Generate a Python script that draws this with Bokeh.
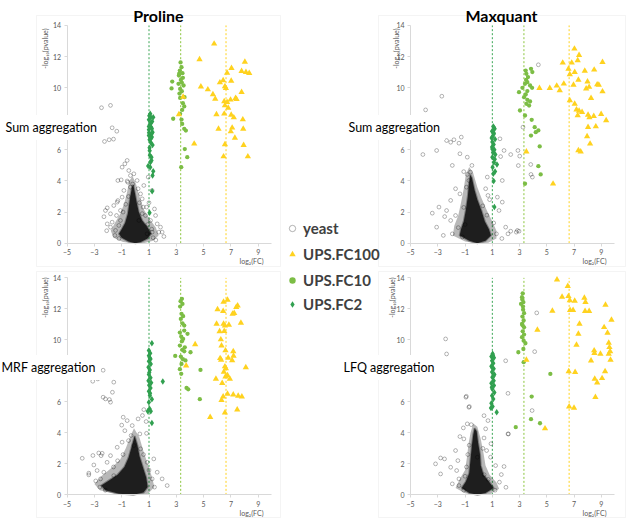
from math import pi
from bokeh.plotting import figure
from bokeh.models import Range1d, LinearAxis, FixedTicker, Label, Legend, LegendItem, BoxAnnotation
from bokeh.layouts import row, column
from bokeh.embed import file_html
from bokeh.resources import INLINE

FONT = "Lato"

# ---------------- shared chart values ----------------
x_ticks = [-5, -3, -1, 1, 3, 5, 7, 9]
y_ticks = [0, 2, 4, 6, 8, 10, 12, 14]
x_axis_bounds = [-5, 10]
y_axis_bounds = [0, 14]
ref_fc = [1.0, 3.32, 6.64]            # log2(2), log2(10), log2(100)
ref_colors = ["#3aa655", "#8cc63f", "#ffd21f"]
series_names = ["yeast", "UPS.FC100", "UPS.FC10", "UPS.FC2"]
C_YEAST = "#000000"
C_FC100 = "#ffd21f"
C_FC10 = "#7cbd45"
C_FC2 = "#31a050"

# ---------------- Proline / Sum aggregation (top-left) ----------------
# outline of the densest part of the yeast cloud, and of its looser fringe
tl_core = [(0.0, 0.0), (-0.5, 0.1), (-1.0, 0.35), (-1.2, 0.6), (-1.0, 0.9), (-0.75, 1.3), (-0.55, 1.9),
           (-0.45, 2.5), (-0.35, 3.1), (-0.25, 3.6), (-0.15, 3.75), (-0.05, 3.3), (0.1, 2.6), (0.25, 2.0),
           (0.5, 1.45), (0.9, 1.0), (1.15, 0.6), (0.9, 0.3), (0.4, 0.08)]
tl_halo = [(0.0, -0.02), (-0.9, 0.08), (-1.6, 0.35), (-1.8, 0.8), (-1.5, 1.3), (-1.1, 1.9), (-0.8, 2.6),
           (-0.6, 3.3), (-0.45, 4.0), (-0.2, 4.3), (0.05, 3.8), (0.3, 3.0), (0.6, 2.2), (1.0, 1.6), (1.5, 1.0),
           (1.7, 0.5), (1.3, 0.15), (0.6, 0.0)]
tl_yeast = [(-2.48, 8.71), (-1.82, 8.86), (-1.70, 7.42), (-1.36, 7.20), (-2.26, 6.54), (-1.92, 6.65), (-1.60, 6.69),
            (-0.60, 5.32), (-0.77, 5.10), (-0.97, 4.89), (-1.28, 4.03), (-1.04, 4.07), (-0.48, 4.67), (-0.36, 4.35),
            (-0.55, 3.92), (0.38, 3.17), (0.50, 2.85), (0.62, 3.71), (-1.33, 2.64), (-1.58, 2.42), (-2.06, 2.27),
            (-2.19, 2.10), (-1.82, 1.89), (-1.38, 1.78), (-1.09, 1.46), (-1.70, 1.35), (0.74, 1.78), (1.11, 1.46),
            (1.48, 1.78), (1.60, 1.24), (1.72, 0.71), (2.09, 0.43), (1.23, 0.71), (1.84, 1.03), (0.86, 0.60),
            (-1.45, 0.82), (-1.82, 1.03), (-2.06, 1.24), (-1.28, 2.74), (-0.11, 4.46), (0.13, 4.03), (0.94, 4.25),
            (1.23, 3.39), (-0.84, 3.39), (-0.97, 2.96), (-0.36, 3.60), (0.57, 2.32), (0.82, 2.32), (0.26, 1.46),
            (-1.09, 2.10), (-1.21, 1.14), (1.96, 0.71), (-0.90, 2.00), (-0.70, 2.50), (-0.50, 3.00), (0.30, 2.60),
            (0.50, 1.90), (0.90, 1.20), (1.20, 0.90), (-1.50, 0.50), (-1.20, 0.30), (1.30, 0.35), (-0.60, 4.00),
            (-0.20, 3.80), (0.20, 3.50), (1.00, 2.60), (1.40, 2.20), (-2.30, 1.70), (-2.10, 0.80), (1.50, 0.20)]
tl_fc100 = [(5.77, 12.82), (4.70, 11.81), (8.02, 11.66), (7.04, 11.25), (6.72, 10.95), (7.78, 11.06), (8.10, 11.00),
            (8.34, 10.93), (4.80, 10.07), (5.31, 9.88), (6.19, 10.33), (6.43, 10.46), (7.02, 10.44), (6.56, 10.08),
            (6.63, 9.97), (5.68, 9.56), (5.85, 9.28), (7.78, 9.71), (7.34, 9.33), (7.41, 9.26), (6.97, 9.22),
            (6.51, 9.11), (6.72, 9.07), (6.56, 8.85), (6.80, 8.70), (5.94, 8.28), (7.02, 8.25), (7.21, 8.08),
            (7.87, 7.95), (6.51, 8.32), (7.09, 7.42), (6.99, 7.18), (6.09, 7.35), (7.90, 7.35), (7.29, 6.77),
            (6.56, 6.35), (7.93, 6.30), (4.31, 6.39), (6.46, 5.57), (8.24, 5.57), (3.19, 8.28), (3.50, 9.41)]
tl_fc10 = [(3.31, 11.62), (3.38, 11.32), (3.26, 11.10), (3.45, 10.93), (3.19, 10.78), (3.48, 10.63), (3.33, 10.50),
           (2.70, 10.39), (3.16, 10.25), (3.53, 10.14), (2.65, 9.95), (3.28, 9.92), (3.40, 9.77), (3.23, 9.62),
           (3.60, 9.39), (3.48, 9.00), (3.58, 8.79), (3.43, 8.57), (3.28, 8.32), (2.77, 8.00), (3.38, 7.95),
           (3.58, 7.35), (3.70, 7.24), (3.43, 7.67), (3.62, 6.05), (3.80, 5.53), (3.36, 4.89), (3.21, 10.90),
           (3.40, 10.33), (3.28, 9.34)]
tl_fc2 = [(1.09, 8.32), (1.13, 8.10), (0.99, 7.93), (1.23, 7.82), (1.06, 7.63), (1.16, 7.46), (0.99, 7.29),
          (1.26, 7.14), (1.09, 6.99), (1.21, 6.82), (1.04, 6.65), (1.13, 6.47), (1.26, 6.32), (1.04, 6.13),
          (1.13, 7.72), (0.99, 7.50), (1.21, 7.35), (1.06, 5.66), (1.18, 5.53), (0.94, 4.97), (1.09, 4.89),
          (1.31, 4.63), (1.26, 4.35), (1.23, 3.34), (1.04, 1.95), (1.18, 5.32), (0.99, 6.92), (1.31, 8.10),
          (1.02, 8.20), (1.20, 7.05), (1.00, 7.10), (1.15, 6.75), (1.05, 5.95), (1.10, 5.20)]

# ---------------- Maxquant / Sum aggregation (top-right) ----------------
tr_core = [(-0.1, 0.0), (-0.7, 0.15), (-1.4, 0.5), (-1.3, 0.9), (-1.1, 1.4), (-0.95, 2.1), (-0.8, 3.0),
           (-0.72, 3.8), (-0.62, 4.4), (-0.5, 4.2), (-0.3, 3.4), (-0.1, 2.8), (0.2, 2.1), (0.45, 1.4),
           (0.75, 0.9), (0.9, 0.5), (0.5, 0.15)]
tr_halo = [(-0.1, -0.02), (-1.0, 0.1), (-1.9, 0.5), (-1.8, 1.1), (-1.5, 1.8), (-1.3, 2.6), (-1.1, 3.5),
           (-0.95, 4.4), (-0.7, 4.9), (-0.4, 4.5), (-0.1, 3.6), (0.2, 2.9), (0.6, 2.1), (1.0, 1.4), (1.3, 0.8),
           (1.3, 0.3), (0.7, 0.02)]
tr_yeast = [(-3.90, 8.57), (-2.71, 9.45), (-4.10, 5.70), (-3.09, 5.96), (-2.36, 6.60), (-2.06, 6.49), (-1.82, 6.65),
            (-1.28, 6.82), (-1.45, 6.43), (-1.38, 5.75), (-0.84, 5.53), (-1.94, 5.00), (-0.60, 4.57), (-0.84, 4.42),
            (-0.72, 4.03), (-1.70, 3.50), (-1.38, 3.17), (-2.06, 2.75), (-2.92, 2.32), (-3.41, 1.93), (-2.36, 2.10),
            (-2.50, 1.71), (-3.09, 1.03), (-2.06, 1.46), (-1.70, 1.78), (-1.94, 0.60), (0.51, 3.50), (0.68, 3.07),
            (1.56, 6.71), (1.86, 5.96), (2.35, 5.70), (2.88, 5.96), (1.73, 4.03), (1.37, 2.96), (1.73, 2.64),
            (1.49, 2.10), (1.98, 1.03), (2.35, 0.77), (2.15, 0.60), (2.84, 0.82), (0.63, 4.25), (3.25, 7.46),
            (2.91, 4.99), (3.01, 5.60), (3.82, 5.06), (3.84, 4.42), (3.94, 4.25), (4.38, 11.47), (2.76, 0.71),
            (2.96, 0.77), (1.61, 5.57), (-1.10, 2.30), (-1.00, 1.20), (-1.50, 1.00), (-1.20, 0.40), (0.30, 2.40),
            (0.60, 1.80), (1.10, 1.30), (1.30, 0.60), (0.80, 2.80), (-0.90, 3.60), (-1.10, 4.60), (-0.50, 5.00),
            (-2.60, 0.50), (1.70, 0.30)]
tr_fc100 = [(7.03, 12.50), (7.37, 12.09), (6.17, 11.60), (6.83, 11.60), (7.27, 11.75), (9.09, 11.64), (6.59, 11.21),
            (7.05, 11.00), (7.79, 11.08), (8.48, 11.15), (6.69, 10.85), (5.22, 9.97), (5.73, 10.12), (5.95, 9.82),
            (6.25, 10.25), (6.96, 10.18), (7.32, 10.50), (7.99, 10.38), (7.89, 9.93), (8.11, 10.04), (8.70, 10.20),
            (8.82, 10.18), (9.09, 9.75), (4.46, 9.97), (8.25, 9.33), (6.69, 9.18), (7.05, 8.96), (7.18, 8.58),
            (7.37, 8.51), (7.59, 8.43), (7.27, 8.21), (8.03, 8.25), (8.13, 8.08), (8.45, 8.17), (8.99, 8.30),
            (9.36, 7.89), (8.03, 7.46), (8.60, 7.50), (7.96, 6.86), (8.18, 6.39), (7.32, 5.96), (7.49, 5.89),
            (3.50, 5.89), (5.46, 3.82)]
tr_fc10 = [(3.84, 11.21), (3.94, 11.00), (3.45, 11.10), (3.50, 10.89), (3.62, 10.68), (3.48, 10.50), (3.57, 10.35),
           (3.40, 10.25), (3.77, 10.14), (3.21, 9.99), (3.92, 9.99), (2.96, 9.71), (3.57, 9.78), (3.45, 9.56),
           (3.33, 9.39), (3.57, 9.22), (3.77, 9.11), (3.50, 8.96), (3.70, 8.85), (3.03, 8.53), (3.40, 8.21),
           (3.89, 7.93), (4.11, 7.46), (4.38, 7.25), (3.84, 6.92), (4.48, 6.22), (4.19, 7.14), (4.38, 4.95),
           (4.55, 4.42), (3.40, 3.82)]
tr_fc2 = [(1.07, 7.50), (1.17, 7.35), (0.98, 7.20), (1.12, 7.03), (1.02, 6.86), (1.20, 6.69), (1.00, 6.50),
          (1.10, 6.35), (0.98, 6.18), (1.15, 6.00), (1.05, 5.83), (1.22, 5.70), (1.00, 5.53), (1.12, 5.19),
          (1.34, 5.06), (1.02, 4.89), (1.20, 4.61), (1.07, 4.46), (1.10, 3.99), (1.15, 2.32), (1.12, 7.42),
          (0.95, 6.77), (1.08, 7.12), (1.00, 6.05), (1.18, 5.40)]

# ---------------- Proline / MRF aggregation (bottom-left) ----------------
bl_core = [(-0.15, 0.0), (-1.2, 0.08), (-2.2, 0.3), (-2.5, 0.6), (-1.9, 0.95), (-1.3, 1.3), (-0.8, 1.8),
           (-0.5, 2.4), (-0.3, 3.0), (-0.05, 3.8), (0.15, 3.2), (0.3, 2.5), (0.55, 1.8), (0.8, 1.1),
           (0.9, 0.5), (0.6, 0.15)]
bl_halo = [(-0.2, -0.02), (-1.5, 0.05), (-2.6, 0.3), (-3.0, 0.7), (-2.5, 1.2), (-1.8, 1.7), (-1.1, 2.3),
           (-0.7, 3.0), (-0.4, 3.7), (-0.1, 4.3), (0.3, 3.7), (0.6, 2.8), (0.9, 2.0), (1.2, 1.2), (1.4, 0.5),
           (0.9, 0.05)]
bl_yeast = [(-2.36, 8.04), (-2.75, 7.48), (-3.12, 7.33), (-1.58, 7.27), (-1.68, 6.62), (-2.36, 6.30), (-2.19, 6.19),
            (-1.90, 6.15), (-1.82, 5.98), (-0.89, 5.01), (-0.60, 4.79), (0.62, 5.50), (0.52, 5.12), (0.79, 4.73),
            (-0.31, 3.83), (-0.77, 4.14), (-0.23, 4.47), (0.33, 3.93), (0.82, 3.97), (-3.89, 2.36), (-3.41, 1.29),
            (-2.68, 2.70), (-2.51, 2.53), (-3.04, 1.93), (-2.80, 1.57), (-2.07, 2.10), (-1.82, 2.53), (-1.33, 3.07),
            (-0.97, 3.40), (-1.58, 1.24), (1.35, 2.32), (1.60, 1.46), (1.23, 1.03), (2.33, 0.60), (1.96, 1.03),
            (0.87, 2.10), (0.38, 2.97), (-0.11, 3.18), (-2.31, 1.46), (-2.55, 1.03), (-3.41, 1.40), (-3.11, 2.54),
            (-2.43, 2.68), (-1.30, 2.20), (-0.90, 2.60), (-2.90, 0.90), (-2.60, 0.50), (-2.20, 0.30), (0.60, 2.60),
            (1.00, 1.60), (1.40, 0.50), (-1.60, 1.80), (-1.00, 4.50), (0.20, 4.90), (-0.50, 3.50)]
bl_fc100 = [(6.75, 12.58), (6.46, 12.45), (6.02, 11.96), (6.43, 11.85), (7.39, 12.11), (7.49, 12.21), (7.12, 11.68),
            (7.24, 11.72), (5.95, 11.03), (6.46, 11.03), (6.56, 10.92), (6.85, 10.96), (7.73, 11.09), (6.17, 10.54),
            (6.51, 10.56), (6.26, 10.02), (6.31, 9.63), (4.38, 9.70), (6.60, 9.31), (7.17, 9.25), (6.21, 8.81),
            (6.28, 8.71), (6.80, 8.84), (7.19, 8.97), (7.09, 8.67), (6.56, 8.28), (6.63, 8.15), (8.09, 8.22),
            (3.72, 8.34), (6.48, 7.93), (5.90, 7.48), (6.60, 7.63), (6.75, 7.70), (6.92, 7.48), (6.36, 7.20),
            (7.17, 6.47), (6.75, 6.51), (6.43, 6.34), (6.31, 6.11), (7.53, 6.39), (7.80, 6.34), (7.46, 5.50),
            (6.56, 5.31), (5.48, 5.01)]
bl_fc10 = [(3.41, 12.65), (3.31, 12.49), (3.45, 12.32), (3.28, 12.15), (3.38, 11.68), (3.50, 11.53), (3.33, 11.35),
           (3.45, 11.07), (3.58, 10.92), (3.26, 10.47), (3.82, 10.39), (3.36, 10.21), (3.50, 10.06), (3.41, 9.91),
           (3.26, 9.63), (3.62, 9.52), (3.45, 9.35), (3.58, 9.26), (4.04, 9.20), (2.92, 8.96), (3.33, 8.92),
           (3.48, 8.75), (3.67, 8.67), (3.38, 8.45), (3.26, 8.11), (3.36, 7.81), (3.75, 6.90), (3.87, 6.81),
           (3.58, 10.60), (4.77, 8.06), (4.72, 6.17)]
bl_fc2 = [(1.21, 9.78), (0.99, 9.31), (1.09, 9.14), (0.99, 8.97), (1.11, 8.77), (0.99, 8.62), (1.13, 8.45),
          (0.96, 8.24), (1.06, 8.06), (0.99, 7.76), (1.11, 7.55), (0.96, 7.37), (1.16, 7.24), (1.01, 7.07),
          (1.11, 6.90), (0.99, 6.69), (1.06, 6.41), (1.21, 6.17), (0.99, 5.98), (1.04, 5.55), (0.91, 5.40),
          (1.13, 5.40), (1.21, 4.64), (2.01, 7.31), (1.05, 8.85), (1.02, 7.90), (1.08, 6.55)]

# ---------------- Maxquant / LFQ aggregation (bottom-right) ----------------
br_core = [(-0.1, 0.0), (-0.7, 0.12), (-1.25, 0.45), (-0.95, 0.85), (-0.7, 1.4), (-0.6, 2.3), (-0.5, 3.2),
           (-0.4, 3.9), (-0.3, 4.3), (-0.15, 4.1), (-0.05, 3.4), (0.1, 2.6), (0.15, 1.9), (0.35, 1.3),
           (0.8, 0.8), (1.1, 0.45), (0.5, 0.12)]
br_halo = [(-0.1, -0.02), (-1.0, 0.1), (-1.7, 0.45), (-1.4, 1.0), (-1.0, 1.6), (-0.85, 2.5), (-0.75, 3.3),
           (-0.6, 4.0), (-0.4, 4.6), (-0.1, 4.4), (0.15, 3.6), (0.35, 2.7), (0.5, 1.9), (0.8, 1.3), (1.3, 0.8),
           (1.5, 0.4), (0.8, 0.02)]
br_yeast = [(-2.36, 9.09), (-2.43, 10.06), (1.98, 8.65), (-0.91, 6.36), (-0.69, 5.70), (-0.84, 4.58), (-1.13, 4.32),
            (-0.55, 4.53), (-1.38, 3.76), (-1.09, 3.61), (-1.70, 2.86), (-1.53, 2.21), (-3.17, 2.00), (-2.80, 2.38),
            (-2.51, 2.32), (-2.80, 1.35), (-1.62, 1.57), (-1.45, 1.03), (-1.94, 0.71), (-1.45, 0.60), (0.68, 4.79),
            (0.51, 4.26), (0.39, 3.67), (0.58, 2.86), (0.87, 2.43), (1.24, 1.89), (1.86, 1.83), (1.66, 1.31),
            (2.15, 3.93), (2.00, 0.49), (0.39, 5.11), (-0.10, 2.43), (1.52, 0.82), (-2.06, 1.78), (4.26, 11.74),
            (4.11, 9.24), (2.15, 6.55), (2.18, 3.93), (-0.94, 6.30), (-0.72, 5.65), (3.92, 5.44), (-0.90, 1.80),
            (-0.80, 2.60), (0.40, 1.30), (0.70, 1.00), (-1.10, 0.30), (1.20, 0.30), (0.30, 3.00), (-0.70, 3.20),
            (0.90, 3.30), (-1.00, 1.20)]
br_fc100 = [(5.75, 13.89), (6.54, 13.46), (6.59, 12.81), (6.12, 12.77), (6.69, 12.54), (7.05, 12.51), (7.76, 12.71),
            (7.84, 12.43), (6.71, 11.91), (6.93, 11.91), (5.41, 11.87), (7.81, 11.85), (8.11, 11.85), (9.31, 12.25),
            (7.40, 11.03), (9.75, 11.29), (7.32, 10.38), (9.21, 10.81), (9.46, 10.45), (4.31, 10.64), (7.18, 9.67),
            (9.55, 9.80), (9.60, 9.52), (9.65, 9.26), (9.55, 9.09), (8.48, 9.31), (8.50, 9.14), (8.94, 9.09),
            (8.25, 8.66), (9.68, 8.71), (3.50, 8.71), (6.61, 7.97), (7.08, 7.91), (9.28, 7.97), (9.06, 7.52),
            (8.52, 7.48), (8.70, 7.24), (8.57, 6.30), (6.64, 5.69), (7.00, 5.61), (4.87, 4.28)]
br_fc10 = [(3.23, 13.00), (3.18, 12.75), (3.28, 12.43), (3.11, 12.32), (3.25, 12.15), (3.33, 11.72), (3.21, 11.50),
           (3.30, 11.25), (3.18, 11.03), (3.33, 10.81), (3.23, 10.55), (3.33, 10.34), (3.18, 10.17), (3.43, 9.78),
           (3.28, 9.41), (2.91, 9.20), (3.30, 8.56), (3.89, 6.34), (3.84, 4.88), (4.50, 4.62), (2.72, 4.37),
           (5.26, 7.80), (3.20, 12.60), (3.26, 11.95), (3.22, 10.95), (3.30, 9.95)]
br_fc2 = [(1.02, 9.10), (0.93, 8.92), (1.12, 8.84), (0.98, 8.66), (1.07, 8.49), (0.93, 8.30), (1.10, 8.13),
          (0.98, 7.93), (1.15, 7.76), (1.00, 7.59), (1.10, 7.37), (0.93, 7.20), (1.12, 7.05), (1.00, 6.83),
          (1.15, 6.60), (0.98, 6.40), (1.07, 6.19), (0.93, 5.91), (1.02, 5.70), (1.32, 5.33), (0.90, 5.61),
          (1.05, 9.00), (1.00, 8.20), (1.08, 7.65), (0.96, 6.95)]

panel_titles = ["Proline", "Maxquant"]
row_labels = ["Sum aggregation", "MRF aggregation", "Sum aggregation", "LFQ aggregation"]
y_title = "-log\u2081\u2080(pvalue)"
x_title = "log\u2082(FC)"

# data extent covered by each panel's light grey chart box
box_x_left = (-7.24, 10.63)
box_x_right = (-7.36, 10.78)
box_y_top = (-1.50, 14.64)
box_y_bottom = (-1.46, 14.41)


def xs(pairs):
    return [p[0] for p in pairs]


def ys(pairs):
    return [p[1] for p in pairs]


def span_x(width, px0, px1, v0, v1):
    u = (v1 - v0) / (px1 - px0)
    return v0 - px0 * u, v1 + (width - px1) * u


def span_y(height, top_px, bottom_px, v0, v1):
    u = (v1 - v0) / (bottom_px - top_px)
    return v0 - (height - bottom_px) * u, v1 + top_px * u


def add_text(p, text, x, y, size, align="left", baseline="middle", bold=False,
             color="#000000", angle=0.0, bg=None, pad=0):
    lab = Label(x=x, y=y, x_units="screen", y_units="screen", text=text,
                text_font=FONT, text_font_size=size, text_align=align,
                text_baseline=baseline, text_color=color, angle=angle,
                text_font_style="bold" if bold else "normal")
    if bg is not None:
        lab.background_fill_color = bg
        lab.padding = pad
    p.add_layout(lab)
    return lab


def make_panel(w, h, box_px, box_xr, box_yr, core, halo, yeast, fc100, fc10, fc2):
    left_px, right_px, top_px, bottom_px = box_px
    xr = span_x(w, left_px, right_px, *box_xr)
    yr = span_y(h, top_px, bottom_px, *box_yr)
    p = figure(width=w, height=h, x_range=Range1d(*xr), y_range=Range1d(*yr),
               output_backend="svg", toolbar_location=None, tools="",
               x_axis_type=None, y_axis_type=None,
               min_border_left=0, min_border_right=0, min_border_top=0, min_border_bottom=0)
    p.outline_line_color = None
    p.background_fill_color = "white"
    p.border_fill_color = "white"
    p.add_layout(BoxAnnotation(left=box_xr[0], right=box_xr[1], bottom=box_yr[0], top=box_yr[1],
                               fill_alpha=0, line_color="#d9d9d9", line_width=1))

    for ax, place, ticks, loc, bnd in (
        (LinearAxis(), "below", x_ticks, y_axis_bounds[0], x_axis_bounds),
        (LinearAxis(), "left", y_ticks, x_axis_bounds[0], y_axis_bounds),
    ):
        ax.ticker = FixedTicker(ticks=ticks)
        ax.fixed_location = loc
        ax.bounds = (bnd[0], bnd[1])
        ax.axis_line_color = "#d9d9d9"
        ax.major_tick_line_color = "#d9d9d9"
        ax.minor_tick_line_color = None
        ax.major_tick_out = 3
        ax.major_tick_in = 0
        ax.major_label_text_font = FONT
        ax.major_label_text_font_size = "7px"
        ax.major_label_text_color = "#595959"
        ax.major_label_standoff = 3
        p.add_layout(ax, place)

    p.segment(x0=ref_fc, y0=y_axis_bounds[0], x1=ref_fc, y1=y_axis_bounds[1],
              line_color=ref_colors, line_dash="2 2", line_width=1)
    p.patch(xs(halo), ys(halo), fill_color="#000000", fill_alpha=0.28, line_color=None)
    p.patch(xs(core), ys(core), fill_color="#0d0d0d", fill_alpha=0.9,
            line_color="#222222", line_alpha=0.4, line_width=2)
    r_yeast = p.scatter(xs(yeast), ys(yeast), marker="circle", size=3.8,
                        fill_color=None, line_color=C_YEAST, line_alpha=0.42, line_width=0.7)
    r_fc2 = p.scatter(xs(fc2), ys(fc2), marker="diamond", size=6.5,
                      fill_color=C_FC2, line_color=None)
    r_fc10 = p.scatter(xs(fc10), ys(fc10), marker="circle", size=4.3,
                       fill_color=C_FC10, line_color=None)
    r_fc100 = p.scatter(xs(fc100), ys(fc100), marker="triangle", size=6.3,
                        fill_color=C_FC100, line_color=None)
    return p, {"yeast": r_yeast, "UPS.FC100": r_fc100, "UPS.FC10": r_fc10, "UPS.FC2": r_fc2}


def add_legend_entry(p, name, renderer, cx, cy):
    lg = Legend(items=[LegendItem(label=name, renderers=[renderer])],
                location=(cx - 8, cy - 8), padding=0, margin=0, spacing=0,
                glyph_width=16, glyph_height=16, label_height=16, label_standoff=3,
                label_text_font=FONT, label_text_font_size="15px",
                label_text_font_style="bold", label_text_color="#404040",
                border_line_color=None, background_fill_alpha=0)
    p.add_layout(lg)


# canvas sizes and chart-box pixel edges (left, right, top, bottom)
tl, tl_r = make_panel(282, 268, (36, 280, 15, 266), box_x_left, box_y_top,
                      tl_core, tl_halo, tl_yeast, tl_fc100, tl_fc10, tl_fc2)
bl, bl_r = make_panel(282, 250, (36, 280, 3, 249), box_x_left, box_y_bottom,
                      bl_core, bl_halo, bl_yeast, bl_fc100, bl_fc10, bl_fc2)
tr, tr_r = make_panel(344, 268, (96, 343, 15, 266), box_x_right, box_y_top,
                      tr_core, tr_halo, tr_yeast, tr_fc100, tr_fc10, tr_fc2)
br, br_r = make_panel(344, 250, (96, 343, 3, 249), box_x_right, box_y_bottom,
                      br_core, br_halo, br_yeast, br_fc100, br_fc10, br_fc2)

# column titles
add_text(tl, panel_titles[0], 158, 253, "16px", align="center", baseline="alphabetic", bold=True)
add_text(tr, panel_titles[1], 219, 253, "16px", align="center", baseline="alphabetic", bold=True)

# row labels (white boxes hide the axis behind them; padding shifts the text right by 5px)
add_text(tl, row_labels[0], 0, 141, "12.5px", bg="white", pad=5)
add_text(bl, row_labels[1], -4, 151, "12.5px", bg="white", pad=5)
add_text(tr, row_labels[2], 61, 141, "12.5px", bg="white", pad=5)
add_text(br, row_labels[3], 56, 151, "12.5px", bg="white", pad=5)

# axis titles
for p, yx, yy, xx, xy in ((tl, 44, 240, 263, 8), (bl, 44, 241, 263, 6),
                          (tr, 113, 240, 324, 8), (br, 109, 241, 324, 6)):
    add_text(p, y_title, yx, yy, "7px", align="right", color="#595959", angle=pi / 2)
    add_text(p, x_title, xx, xy, "7px", align="right", color="#595959")

# legend, split over the two right-hand panels
add_legend_entry(tr, series_names[0], tr_r[series_names[0]], 10, 39)
add_legend_entry(tr, series_names[1], tr_r[series_names[1]], 10, 13)
add_legend_entry(br, series_names[2], br_r[series_names[2]], 10, 237)
add_legend_entry(br, series_names[3], br_r[series_names[3]], 10, 213)

layout = row(column(tl, bl), column(tr, br))
open("out.html", "w").write(file_html(layout, INLINE))
